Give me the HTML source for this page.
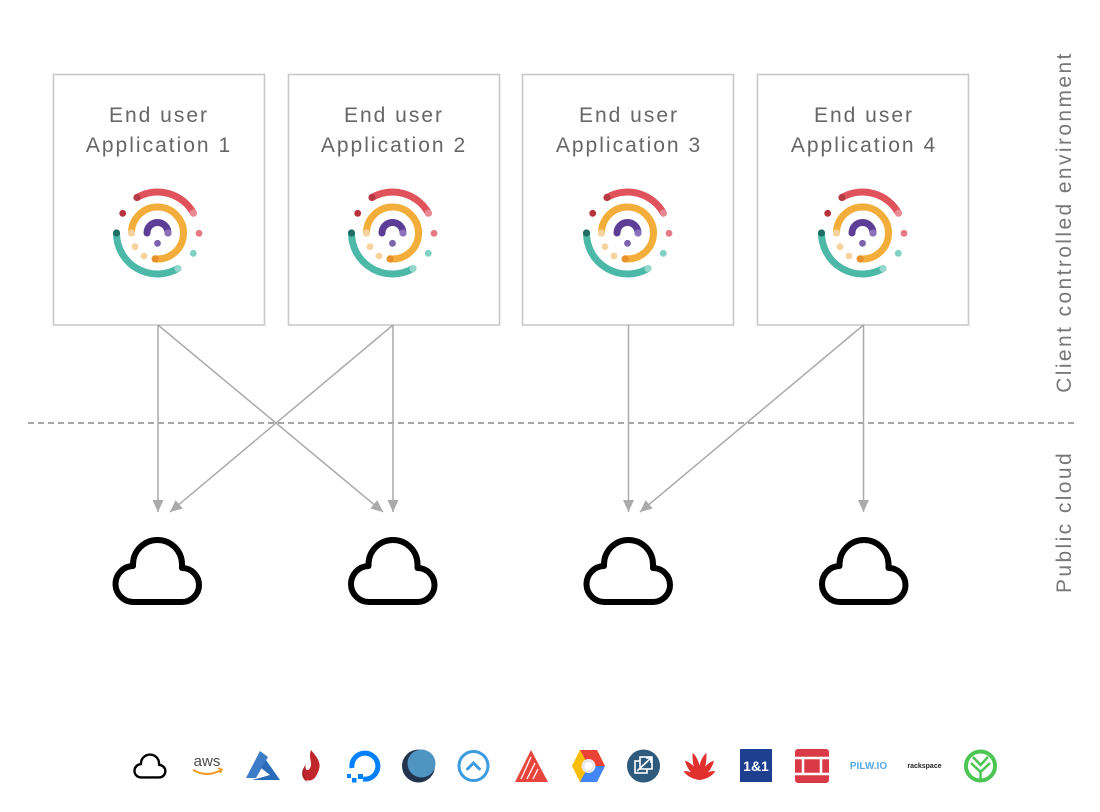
<!DOCTYPE html>
<html>
<head>
<meta charset="utf-8">
<style>
  html,body{margin:0;padding:0;background:#fff;}
  body{width:1100px;height:812px;overflow:hidden;}
  svg{display:block;}
  .bx{fill:#fff;stroke:#c9c9c9;stroke-width:1.6;}
  .lbl{font-family:"Liberation Sans",sans-serif;font-size:21px;fill:#666;letter-spacing:2px;text-anchor:middle;}
  .side{font-family:"Liberation Sans",sans-serif;font-size:21px;fill:#777;letter-spacing:2.4px;text-anchor:middle;}
  .cn{stroke:#aaa;stroke-width:1.5;fill:none;}
  .cloud{fill:none;stroke:#000;stroke-width:6;stroke-linejoin:round;}
</style>
</head>
<body>
<svg width="1100" height="812" viewBox="0 0 1100 812" xmlns="http://www.w3.org/2000/svg">
  <defs>
    <marker id="ah" markerUnits="userSpaceOnUse" markerWidth="13" markerHeight="12" refX="12" refY="5.5" orient="auto">
      <path d="M0,0 L12,5.5 L0,11 z" fill="#aaa"/>
    </marker>
    <g id="logo">
      <path d="M -20.5 -35.5 A 41 41 0 0 1 35.9 -19.9" stroke="#e0525c" stroke-width="7" fill="none" stroke-linecap="round"/>
      <path d="M -41 0 A 41 41 0 0 0 20.5 35.5" stroke="#4bb8a8" stroke-width="7" fill="none" stroke-linecap="round"/>
      <path d="M -26 0 A 26 26 0 1 1 -2.3 25.9" stroke="#f2ad3a" stroke-width="7" fill="none" stroke-linecap="round"/>
      <path d="M -10.5 0 A 10.5 10.5 0 0 1 10.5 0" stroke="#5c3e96" stroke-width="7" fill="none" stroke-linecap="round"/>
      <circle cx="-20.5" cy="-35.5" r="3.6" fill="#b83a45"/>
      <circle cx="35.9" cy="-19.9" r="3.6" fill="#e98a92"/>
      <circle cx="-41" cy="0" r="3.6" fill="#1f6e63"/>
      <circle cx="20.5" cy="35.5" r="3.6" fill="#93d8cc"/>
      <circle cx="-26" cy="0" r="3.6" fill="#f6d29f"/>
      <circle cx="-2.3" cy="25.9" r="3.6" fill="#e8902a"/>
      <circle cx="10.5" cy="0" r="3.6" fill="#8b72ba"/>
      <circle cx="-34.8" cy="-19.7" r="3.4" fill="#b8323c"/>
      <circle cx="41.5" cy="0.3" r="3.4" fill="#e57a86"/>
      <circle cx="35.8" cy="20.3" r="3.4" fill="#80d0c3"/>
      <circle cx="-22.5" cy="13.7" r="3.4" fill="#f7d39e"/>
      <circle cx="-13.5" cy="23" r="3.4" fill="#f7d39e"/>
      <circle cx="0" cy="10.3" r="3.4" fill="#7b64ad"/>
    </g>
    <path id="cl" d="M -23.5 37.5 A 18 18 0 0 1 -24.5 1.5 L -24.5 0 A 24.5 24.5 0 0 1 24.5 0 L 24.5 3.5 A 17 17 0 0 1 24.5 37.5 Z"/>
  </defs>

  <!-- Boxes -->
  <rect class="bx" x="53.5" y="74.5" width="211" height="250.5"/>
  <rect class="bx" x="288.5" y="74.5" width="211" height="250.5"/>
  <rect class="bx" x="522.5" y="74.5" width="211" height="250.5"/>
  <rect class="bx" x="757.5" y="74.5" width="211" height="250.5"/>

  <text class="lbl" x="159" y="122">End user</text>
  <text class="lbl" x="159" y="152">Application 1</text>
  <text class="lbl" x="394" y="122">End user</text>
  <text class="lbl" x="394" y="152">Application 2</text>
  <text class="lbl" x="629" y="122">End user</text>
  <text class="lbl" x="629" y="152">Application 3</text>
  <text class="lbl" x="864" y="122">End user</text>
  <text class="lbl" x="864" y="152">Application 4</text>

  <use href="#logo" transform="translate(157.5,233)"/>
  <use href="#logo" transform="translate(392.5,233)"/>
  <use href="#logo" transform="translate(627.5,233)"/>
  <use href="#logo" transform="translate(862.5,233)"/>

  <!-- Dashed separator -->
  <line x1="28" y1="423" x2="1078" y2="423" stroke="#8a8a8a" stroke-width="1.5" stroke-dasharray="6 4"/>

  <!-- Connectors -->
  <line class="cn" x1="158" y1="325" x2="158" y2="512" marker-end="url(#ah)"/>
  <line class="cn" x1="158" y1="325" x2="383" y2="512" marker-end="url(#ah)"/>
  <line class="cn" x1="393" y1="325" x2="393" y2="512" marker-end="url(#ah)"/>
  <line class="cn" x1="393" y1="325" x2="170" y2="512" marker-end="url(#ah)"/>
  <line class="cn" x1="628.5" y1="325" x2="628.5" y2="512" marker-end="url(#ah)"/>
  <line class="cn" x1="863.5" y1="325" x2="863.5" y2="512" marker-end="url(#ah)"/>
  <line class="cn" x1="863.5" y1="325" x2="640" y2="512" marker-end="url(#ah)"/>

  <!-- Clouds -->
  <use href="#cl" class="cloud" transform="translate(157.5,564.5)"/>
  <use href="#cl" class="cloud" transform="translate(393,564.5)"/>
  <use href="#cl" class="cloud" transform="translate(628.5,564.5)"/>
  <use href="#cl" class="cloud" transform="translate(864,564.5)"/>

  <!-- Side labels -->
  <text class="side" transform="translate(1071,222) rotate(-90)">Client controlled environment</text>
  <text class="side" transform="translate(1071,522) rotate(-90)">Public cloud</text>

  <!-- Bottom logo row -->
  <use href="#cl" fill="none" stroke="#000" stroke-width="6.5" stroke-linejoin="round" transform="translate(150,763.6) scale(0.37)"/>
  <text x="207" y="766" font-family="Liberation Sans,sans-serif" font-size="15" fill="#4a4a4a" text-anchor="middle">aws</text>
  <path d="M193,770 Q207,778 221,770" stroke="#f59a23" stroke-width="2" fill="none"/>
  <path d="M218,768 L222,769.5 L220,773" stroke="#f59a23" stroke-width="1.6" fill="none"/>
  <path d="M260,751 L246,778 L256,778 L268,757 Z" fill="#3d7cc6"/>
  <path d="M266,760 L280,780 L252,780 L270,775 L261,768 Z" fill="#2b6cb8"/>
  <path d="M311,750 C318,758 322,764 318,772 C316,778 312,782 306,780 C301,776 302,770 306,764 C304,770 308,772 310,768 C313,763 308,758 311,750 Z" fill="#c0272d"/>
  <path d="M305,766 C300,772 302,780 308,782 C303,778 304,772 305,766 Z" fill="#a51f26"/>
  <path d="M352,768 A13,13 0 1 1 363,779" stroke="#0080ff" stroke-width="5" fill="none"/>
  <rect x="358" y="774" width="5" height="5" fill="#0080ff"/>
  <rect x="352" y="778" width="4.5" height="4.5" fill="#0080ff"/>
  <rect x="347" y="774" width="4" height="4" fill="#0080ff"/>
  <circle cx="418.5" cy="766" r="16.5" fill="#24344d"/>
  <circle cx="421.5" cy="763.5" r="14" fill="#4f95c2"/>
  <circle cx="473.5" cy="766" r="14.5" stroke="#3d9be0" stroke-width="3" fill="none"/>
  <path d="M467.5,769 L473.5,763 L479.5,769" stroke="#3d9be0" stroke-width="3" fill="none" stroke-linecap="round"/>
  <polygon points="531,750 515,782 548,782" fill="#e8453c"/>
  <path d="M531,757 L521,779 M535,763 L527,779 M538,769 L533,779" stroke="#fff" stroke-width="1.3"/>
  <polygon points="580,750 597,750 605,766 597,782 580,782 572,766" fill="#fbbc05"/>
  <polygon points="580,750 597,750 605,766 588.5,766" fill="#ea4335"/>
  <polygon points="605,766 597,782 580,782 588.5,766" fill="#4285f4"/>
  <polygon points="580,750 572,766 588.5,766" fill="#fbbc05"/>
  <circle cx="588.5" cy="766" r="7" fill="#e8e8e8"/>
  <circle cx="588.5" cy="766" r="4" fill="#fff"/>
  <circle cx="643.5" cy="766" r="16.5" fill="#2d5a7d"/>
  <rect x="635" y="761" width="12" height="12" stroke="#fff" stroke-width="1.6" fill="none"/>
  <rect x="640" y="757" width="12" height="12" stroke="#fff" stroke-width="1.6" fill="#2d5a7d"/>
  <path d="M637,771 L651,758 M646,758 L651,758 L651,763" stroke="#fff" stroke-width="1.6" fill="none"/>
  <g fill="#e0312e" transform="translate(699.5,780)">
    <path d="M0,0 C-4,-8 -5,-18 -3,-28 C2,-22 4,-10 0,0 Z" transform="rotate(-8)"/>
    <path d="M0,0 C-4,-8 -5,-18 -3,-28 C2,-22 4,-10 0,0 Z" transform="scale(-1,1) rotate(-8)"/>
    <path d="M0,0 C-4,-8 -5,-16 -3,-24 C2,-19 4,-10 0,0 Z" transform="rotate(-30)"/>
    <path d="M0,0 C-4,-8 -5,-16 -3,-24 C2,-19 4,-10 0,0 Z" transform="scale(-1,1) rotate(-30)"/>
    <path d="M0,0 C-3,-6 -4,-12 -2,-18 C2,-14 3,-7 0,0 Z" transform="rotate(-55)"/>
    <path d="M0,0 C-3,-6 -4,-12 -2,-18 C2,-14 3,-7 0,0 Z" transform="scale(-1,1) rotate(-55)"/>
  </g>
  <rect x="740" y="749" width="32" height="33" fill="#1e3f8f"/>
  <text x="756" y="771" font-family="Liberation Sans,sans-serif" font-size="14" font-weight="bold" fill="#fff" text-anchor="middle">1&amp;1</text>
  <rect x="795" y="749" width="34" height="34" rx="3" fill="#da3a45"/>
  <path d="M795,758 H829 M795,774 H829" stroke="#fff" stroke-width="2.5"/>
  <path d="M803,758 V774 M821,758 V774" stroke="#fff" stroke-width="2.5"/>
  <text x="868.5" y="769" font-family="Liberation Sans,sans-serif" font-size="10" font-weight="bold" fill="#5aa9e6" text-anchor="middle">PILW.IO</text>
  <text x="924.5" y="768" font-family="Liberation Sans,sans-serif" font-size="7" font-weight="bold" fill="#222" text-anchor="middle">rackspace</text>
  <circle cx="980.5" cy="766" r="14.5" stroke="#4cc552" stroke-width="4" fill="none"/>
  <path d="M971,763 L980.5,772 L990,763 M973,757 L980.5,765 L988,757 M980.5,772 V781" stroke="#4cc552" stroke-width="2.5" fill="none"/>
</svg>
</body>
</html>
